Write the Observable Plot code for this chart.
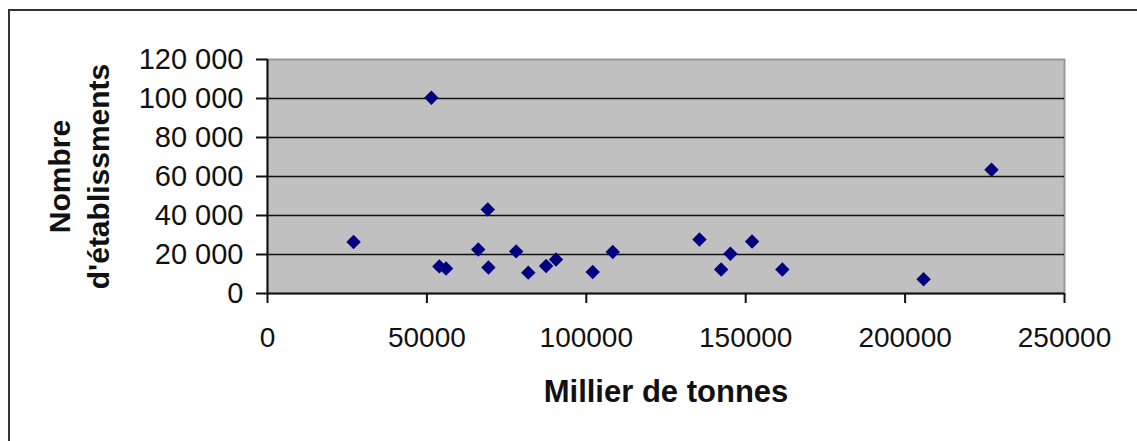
<!DOCTYPE html>
<html>
<head>
<meta charset="utf-8">
<script src="https://cdn.jsdelivr.net/npm/d3@7"></script>
<script src="https://cdn.jsdelivr.net/npm/@observablehq/plot@0.6"></script>
<style>
  html, body { margin: 0; padding: 0; background: #fff; }
  #wrap { position: relative; width: 1137px; height: 441px; overflow: hidden; }
  #border { position: absolute; left: 8px; top: 9px; width: 1127px; height: 460px;
            border-top: 2px solid #333; border-left: 2px solid #333; border-right: 1px solid #999;
            pointer-events: none; }
</style>
</head>
<body>
<div id="wrap"><div id="border"></div></div>
<script>
// Data
const tonnes = [27000, 51400, 53900, 56000, 66100, 69100, 69300, 78000, 81800, 87400,
                90500, 102000, 108300, 135500, 142300, 145200, 152000, 161500, 205800, 227100];
const etablissements = [26400, 100400, 13900, 12800, 22600, 43100, 13300, 21600, 10700, 14100,
                        17400, 11000, 21300, 27700, 12300, 20400, 26700, 12300, 7300, 63500];
const xTicks = [0, 50000, 100000, 150000, 200000, 250000];
const yTicks = [0, 20000, 40000, 60000, 80000, 100000, 120000];
const gridTicks = [20000, 40000, 60000, 80000, 100000];
const xTitle = "Millier de tonnes";
const yTitle = "Nombre\nd'établissments";

const data = tonnes.map((t, i) => ({x: t, y: etablissements[i]}));
const frLocale = d3.formatLocale({thousands: " ", grouping: [3], decimal: ",", currency: ["", " €"]});
const fmtY = frLocale.format(",d");
const fmtX = d3.format("d");

const font = "'Liberation Sans', Arial, sans-serif";

const chart = Plot.plot({
  width: 1137,
  height: 441,
  marginLeft: 267,
  marginRight: 73,
  marginTop: 59,
  marginBottom: 148,
  style: {fontFamily: font, background: "transparent", color: "#111", overflow: "visible"},
  x: {domain: [0, 250000]},
  y: {domain: [0, 120000]},
  marks: [
    Plot.frame({fill: "#c0c0c0", stroke: "#999", strokeWidth: 2}),
    Plot.gridY(gridTicks, {stroke: "#111", strokeOpacity: 1, strokeWidth: 1.6}),
    Plot.ruleX([0], {stroke: "#111", strokeWidth: 2}),
    Plot.ruleY([0], {stroke: "#111", strokeWidth: 2}),
    Plot.axisY({ticks: yTicks, tickFormat: fmtY, tickSize: 11, tickPadding: 13,
                fontSize: 29, label: null, strokeWidth: 2, stroke: "#111"}),
    Plot.axisX({ticks: xTicks, tickFormat: fmtX, tickSize: 10, tickPadding: 24,
                fontSize: 28, label: null, strokeWidth: 2, stroke: "#111"}),
    Plot.dot(data, {x: "x", y: "y", symbol: "diamond2", r: 6.5, fill: "#000080", stroke: "none"}),
    Plot.text([yTitle], {frameAnchor: "left", text: d => d, rotate: -90, dx: -190,
                         textAnchor: "middle", lineAnchor: "middle", lineHeight: 1.3,
                         fontSize: 30, fontWeight: "bold", fill: "#111"}),
    Plot.text([xTitle], {frameAnchor: "bottom", text: d => d, dy: 99, textAnchor: "middle",
                         lineAnchor: "middle", fontSize: 31, fontWeight: "bold", fill: "#111"})
  ]
});
chart.style.position = "absolute";
chart.style.left = "0";
chart.style.top = "0";
document.getElementById("wrap").prepend(chart);
</script>
</body>
</html>
